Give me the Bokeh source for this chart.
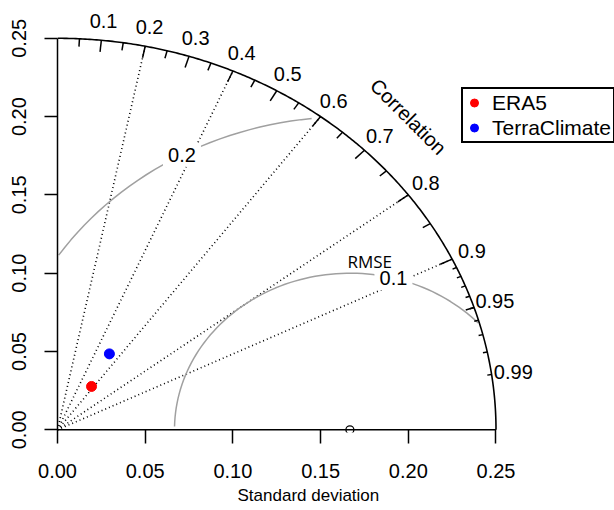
import numpy as np
from bokeh.plotting import figure
from bokeh.models import Range1d, FixedTicker, Legend, LegendItem, PrintfTickFormatter, Title
from bokeh.core.properties import value
from bokeh.embed import file_html
from bokeh.resources import INLINE

# ---- data ----
model_names = ["ERA5", "TerraClimate"]
model_sd = [0.0338, 0.0568]
model_cor = [0.574, 0.521]
model_colors = ["#FF0000", "#0000FF"]
ref_sd = 0.1667
max_sd = 0.25

sd_ticks = [0.0, 0.05, 0.10, 0.15, 0.20, 0.25]
cor_major = [0.1, 0.2, 0.3, 0.4, 0.5, 0.6, 0.7, 0.8, 0.9]
cor_mid = [0.05, 0.15, 0.25, 0.35, 0.45, 0.55, 0.65, 0.75, 0.85, 0.95]
cor_minor = [0.91, 0.92, 0.93, 0.94, 0.95, 0.96, 0.97, 0.98, 0.99]
cor_label_values = [0.1, 0.2, 0.3, 0.4, 0.5, 0.6, 0.7, 0.8, 0.9, 0.95, 0.99]
cor_label_text = ["0.1", "0.2", "0.3", "0.4", "0.5", "0.6", "0.7", "0.8", "0.9", "0.95", "0.99"]
cor_rays = [0.2, 0.4, 0.6, 0.8, 0.9]
rmse_levels = [0.1, 0.2]
rmse_label_text = ["0.1", "0.2"]
rmse_label_index = [44, 69]

FONT = value("Liberation Sans")
GRAY = "#A0A0A0"

p = figure(width=614, height=510, output_backend="svg", toolbar_location=None,
           x_range=Range1d(0, 0.31756), y_range=Range1d(-0.001724, 0.27414),
           min_border_left=57, min_border_right=0, min_border_top=0, min_border_bottom=78)
p.grid.visible = False
p.outline_line_color = None

# x axis
xa = p.xaxis[0]
xa.ticker = FixedTicker(ticks=sd_ticks)
xa.formatter = PrintfTickFormatter(format="%.2f")
xa.axis_line_color = None
xa.major_tick_in = 3
xa.major_tick_out = 11
xa.major_tick_line_width = 1.5
xa.minor_tick_line_color = None
xa.major_label_text_font = "Liberation Sans"
xa.major_label_text_font_size = "20px"
xa.major_label_text_color = "black"
xa.major_label_standoff = 20

# y axis
ya = p.yaxis[0]
ya.ticker = FixedTicker(ticks=sd_ticks)
ya.formatter = PrintfTickFormatter(format="%.2f")
ya.bounds = (0, max_sd)
ya.axis_line_width = 1.5
ya.major_tick_in = 0
ya.major_tick_out = 13
ya.major_tick_line_width = 1.5
ya.minor_tick_line_color = None
ya.major_label_orientation = "vertical"
ya.major_label_text_font = "Liberation Sans"
ya.major_label_text_font_size = "20px"
ya.major_label_text_color = "black"
ya.major_label_standoff = 18

# x axis title (placed like R's mtext, left of the frame centre)
p.add_layout(Title(text="Standard deviation", align="left", offset=180, standoff=7,
                   text_font="Liberation Sans", text_font_size="17px",
                   text_font_style="normal", text_color="black"), "below")

# baseline (x axis line at sd = 0)
p.segment(x0=[0], y0=[0], x1=[max_sd], y1=[0], line_color="black", line_width=1.5)

# radial correlation rays
cr = np.array(cor_rays)
p.segment(x0=np.zeros(len(cr)), y0=np.zeros(len(cr)), x1=max_sd * cr, y1=max_sd * np.sqrt(1 - cr**2),
          line_color="black", line_width=1.6, line_dash="1 3")

# RMSE contours (plotrix style sampling)
ang = np.arange(105) * 0.03
for g in rmse_levels:
    xc = np.cos(ang) * g + ref_sd
    yc = np.sin(ang) * g
    out = np.where(xc**2 + yc**2 > max_sd**2)[0]
    start = out.max() + 1 if len(out) else 0
    neg = np.where(xc < 0)[0]
    end = neg.min() - 1 if len(neg) else 104
    p.line(xc[start:end + 1], yc[start:end + 1], line_color=GRAY, line_width=1.5)

# outer arc
th = np.linspace(0, np.pi / 2, 300)
p.line(max_sd * np.cos(th), max_sd * np.sin(th), line_color="black", line_width=1.6)

# arc ticks
for vals, frac in ((cor_major, 0.97), (cor_mid, 0.98), (cor_minor, 0.99)):
    c = np.array(vals)
    s = np.sqrt(1 - c**2)
    p.segment(x0=max_sd * c, y0=max_sd * s, x1=frac * max_sd * c, y1=frac * max_sd * s,
              line_color="black", line_width=1.5)

# correlation labels
cl = np.array(cor_label_values)
p.text(x=1.05 * max_sd * cl, y=1.05 * max_sd * np.sqrt(1 - cl**2), text=cor_label_text,
       text_align="center", text_baseline="middle", text_font=FONT, text_font_size="20px",
       text_color="black")
p.text(x=[0.8 * max_sd], y=[0.8 * max_sd], text=["Correlation"], angle=-np.pi / 4,
       text_align="center", text_baseline="middle", text_font=FONT, text_font_size="20px",
       text_color="black")

# RMSE labels with white boxes
lx, ly, lt = [], [], []
for g, idx, t in zip(rmse_levels, rmse_label_index, rmse_label_text):
    x = np.cos(ang[idx]) * g + ref_sd
    y = np.sin(ang[idx]) * g
    if x > 0:
        lx.append(x); ly.append(y); lt.append(t)
p.rect(x=lx, y=ly, width=38, height=24, width_units="screen", height_units="screen",
       fill_color="white", line_color=None)
p.text(x=lx, y=ly, text=lt, text_align="center", text_baseline="middle", text_font=FONT,
       text_font_size="20px", text_color="black")
p.text(x=[0.178], y=[0.1076], text=["RMSE"], text_align="center", text_baseline="middle",
       text_font=value("Open Sans"), text_font_size="17px", text_color="black")

# reference point
p.scatter(x=[ref_sd], y=[0], marker="circle", size=8, fill_color=None, line_color="black",
          line_width=1.2)

# model points
items = []
for name, sd, cor, col in zip(model_names, model_sd, model_cor, model_colors):
    r = p.scatter(x=[sd * cor], y=[sd * np.sqrt(1 - cor**2)], marker="circle", size=10,
                  fill_color=col, line_color=col)
    items.append(LegendItem(label=name, renderers=[r]))

legend = Legend(items=items, location=(404, 289), border_line_color="black", border_line_width=2,
                border_line_alpha=1.0, padding=1, spacing=0, margin=0,
                label_text_font="Liberation Sans", label_text_color="black",
                label_text_font_size="21px", glyph_width=20, glyph_height=25, label_height=25,
                label_width=120, label_standoff=8, background_fill_color="white",
                background_fill_alpha=1)
p.add_layout(legend)

open("out.html", "w").write(file_html(p, INLINE))
